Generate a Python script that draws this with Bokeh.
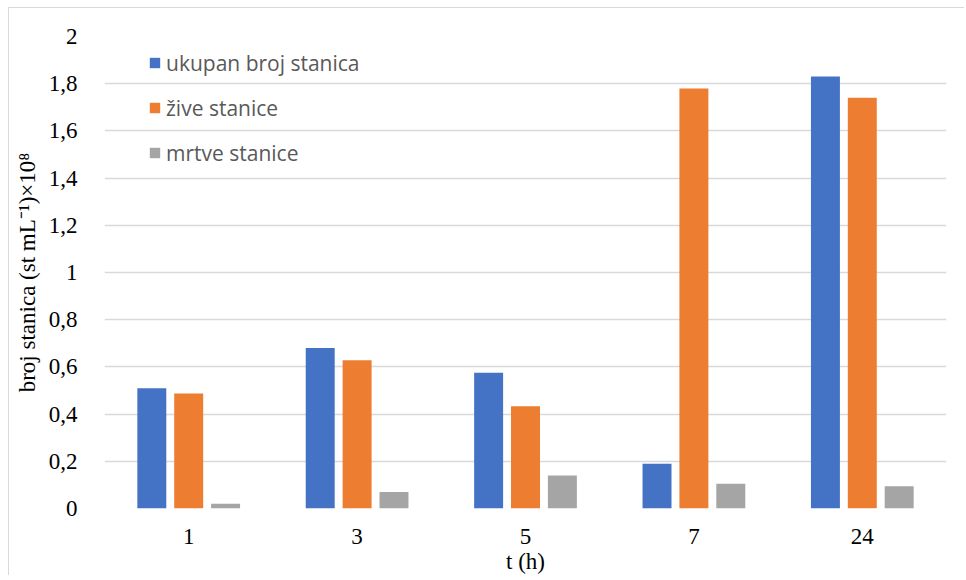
from bokeh.plotting import figure
from bokeh.models import ColumnDataSource, FactorRange, FixedTicker, Legend, LegendItem
from bokeh.transform import dodge
from bokeh.embed import file_html
from bokeh.resources import INLINE

categories = ["1", "3", "5", "7", "24"]
ukupan = [0.51, 0.68, 0.575, 0.19, 1.83]
zive = [0.487, 0.628, 0.433, 1.78, 1.74]
mrtve = [0.02, 0.07, 0.14, 0.105, 0.094]
series_names = ["ukupan broj stanica", "žive stanice", "mrtve stanice"]
series_colors = ["#4472C4", "#ED7D31", "#A5A5A5"]
y_ticks = [0, 0.2, 0.4, 0.6, 0.8, 1, 1.2, 1.4, 1.6, 1.8, 2]
y_tick_labels = ["0", "0,2", "0,4", "0,6", "0,8", "1", "1,2", "1,4", "1,6", "1,8", "2"]

source = ColumnDataSource(dict(cat=categories, ukupan=ukupan, zive=zive, mrtve=mrtve))

p = figure(x_range=FactorRange(*categories), y_range=(0, 2),
           width=956, height=568, output_backend="svg", toolbar_location=None,
           min_border_left=95, min_border_top=28, min_border_right=19, min_border_bottom=68)
p.styles = {"margin-left": "8px", "margin-top": "7px",
            "border-left": "1px solid #d9d9d9", "border-top": "1px solid #d9d9d9"}
p.outline_line_color = None

renderers = []
for field, off, col in zip(["ukupan", "zive", "mrtve"], [-0.219, 0.0, 0.219], series_colors):
    r = p.vbar(x=dodge("cat", off, range=p.x_range), top=field, width=0.172,
               source=source, fill_color=col, line_color=None)
    renderers.append(r)

legend = Legend(items=[LegendItem(label=n, renderers=[r]) for n, r in zip(series_names, renderers)],
                location=(44, 341), orientation="vertical")
legend.border_line_color = None
legend.background_fill_alpha = 0
legend.padding = 0
legend.margin = 0
legend.spacing = 16
legend.label_height = 29
legend.glyph_height = 13
legend.glyph_width = 13
legend.label_standoff = 5
legend.label_text_font = "Open Sans"
legend.label_text_font_size = "21px"
legend.label_text_color = "#595959"
p.add_layout(legend)

p.yaxis.ticker = FixedTicker(ticks=y_ticks)
p.yaxis.major_label_overrides = dict(zip(y_ticks, y_tick_labels))
p.ygrid.ticker = FixedTicker(ticks=y_ticks)
p.ygrid.grid_line_color = "#D9D9D9"
p.ygrid.grid_line_width = 1.5
p.xgrid.grid_line_color = None

for ax in (p.xaxis, p.yaxis):
    ax.axis_line_color = None
    ax.major_tick_line_color = None
    ax.minor_tick_line_color = None
    ax.major_label_text_font = "Liberation Serif"
    ax.major_label_text_font_size = "23px"
    ax.major_label_text_color = "#000000"
    ax.axis_label_text_font = "Liberation Serif"
    ax.axis_label_text_font_size = "23px"
    ax.axis_label_text_font_style = "normal"
    ax.axis_label_text_color = "#000000"

p.yaxis.major_label_standoff = 21
p.yaxis.axis_label = "broj stanica (st mL⁻¹)×10⁸"
p.yaxis.axis_label_standoff = 6
p.xaxis.major_label_standoff = 14
p.xaxis.axis_label = "t (h)"
p.xaxis.axis_label_standoff = 2

open("out.html", "w").write(file_html(p, INLINE))
